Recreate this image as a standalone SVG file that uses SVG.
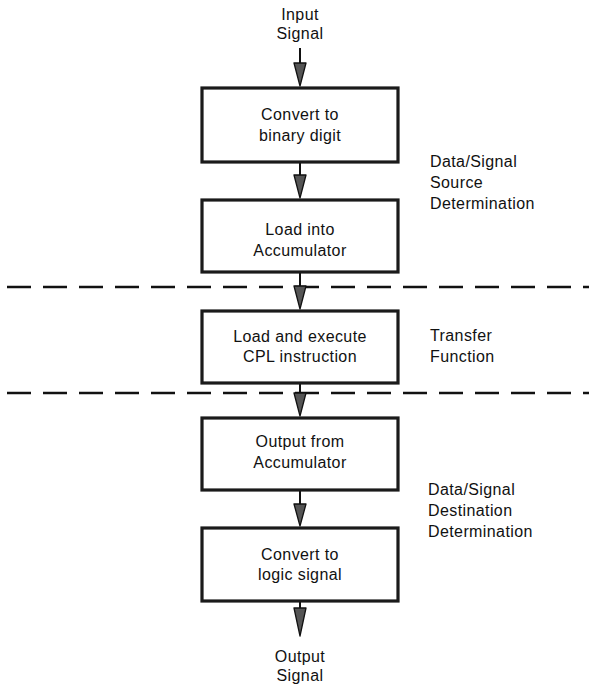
<svg xmlns="http://www.w3.org/2000/svg" width="589" height="686" viewBox="0 0 589 686">
<style>
text{font-family:"Liberation Sans",Arial,sans-serif;font-size:16px;letter-spacing:0.4px;fill:#111}
.c{text-anchor:middle}
.box{fill:#fff;stroke:#1a1a1a;stroke-width:3.2}
.ln{stroke:#111;stroke-width:2;fill:none}
.dash{stroke:#111;stroke-width:2.5;stroke-dasharray:24 12;fill:none}
.hd{fill:#555;stroke:#111;stroke-width:1.3;stroke-linejoin:round}
</style>
<rect width="589" height="686" fill="#fff"/>
<g id="dividers">
<line class="dash" x1="7" y1="287" x2="589" y2="287"/>
<line class="dash" x1="7" y1="393" x2="589" y2="393"/>
</g>
<g id="connectors">
<line class="ln" x1="300" y1="48" x2="300" y2="64"/><polygon class="hd" points="294,63 306,63 300,86"/>
<line class="ln" x1="300" y1="163" x2="300" y2="176"/><polygon class="hd" points="294,175 306,175 300,198"/>
<line class="ln" x1="300" y1="273" x2="300" y2="287"/><polygon class="hd" points="294,286 306,286 300,309"/>
<line class="ln" x1="300" y1="384" x2="300" y2="394"/><polygon class="hd" points="294,393 306,393 300,416"/>
<line class="ln" x1="300" y1="491" x2="300" y2="505"/><polygon class="hd" points="294,504 306,504 300,526"/>
<line class="ln" x1="300" y1="602" x2="300" y2="609"/><polygon class="hd" points="294,608 306,608 300,636"/>
</g>
<g id="input"><text class="c" x="300" y="20">Input</text><text class="c" x="300" y="39">Signal</text></g>
<g id="box1"><rect class="box" x="202" y="88" width="196" height="74"/><text class="c" x="300" y="120">Convert to</text><text class="c" x="300" y="141">binary digit</text></g>
<g id="box2"><rect class="box" x="202" y="200" width="196" height="72"/><text class="c" x="300" y="235">Load into</text><text class="c" x="300" y="256">Accumulator</text></g>
<g id="box3"><rect class="box" x="202" y="311" width="196" height="72"/><text class="c" x="300" y="342">Load and execute</text><text class="c" x="300" y="362">CPL instruction</text></g>
<g id="box4"><rect class="box" x="202" y="418" width="196" height="72"/><text class="c" x="300" y="447">Output from</text><text class="c" x="300" y="468">Accumulator</text></g>
<g id="box5"><rect class="box" x="202" y="528" width="196" height="73"/><text class="c" x="300" y="560">Convert to</text><text class="c" x="300" y="580">logic signal</text></g>
<g id="output"><text class="c" x="300" y="662">Output</text><text class="c" x="300" y="681">Signal</text></g>
<g id="label-source"><text x="430" y="167">Data/Signal</text><text x="430" y="188">Source</text><text x="430" y="209">Determination</text></g>
<g id="label-transfer"><text x="430" y="341">Transfer</text><text x="430" y="362">Function</text></g>
<g id="label-destination"><text x="428" y="495">Data/Signal</text><text x="428" y="516">Destination</text><text x="428" y="537">Determination</text></g>
</svg>
